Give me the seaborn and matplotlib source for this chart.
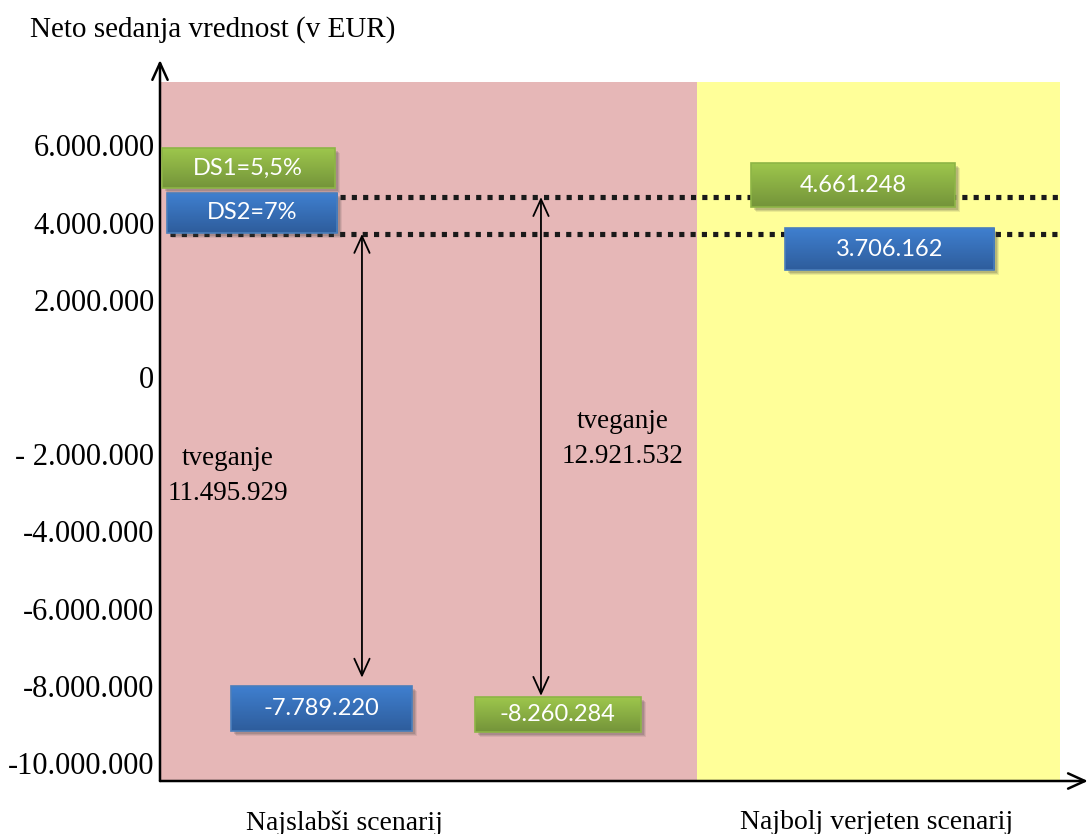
import numpy as np
import pandas as pd
import matplotlib
matplotlib.use("Agg")
import matplotlib.pyplot as plt
from matplotlib.patches import Rectangle
from matplotlib.colors import LinearSegmentedColormap
import seaborn as sns

sns.set_theme(style="white")
plt.rcParams["font.family"] = ["Liberation Serif", "DejaVu Serif"]

# Discount rates and net present values of the two scenarios
rates = ["DS1=5,5%", "DS2=7%"]
likely_npv = [4661248, 3706162]
worst_npv = [-8260284, -7789220]
risk = [12921532, 11495929]
scenarios = ["Najslabši scenarij", "Najbolj verjeten scenarij"]
ytick_values = [6_000_000, 4_000_000, 2_000_000, 0, -2_000_000,
                -4_000_000, -6_000_000, -8_000_000, -10_000_000]
ytick_labels = ["6.000.000", "4.000.000", "2.000.000", "0", "- 2.000.000",
                "-4.000.000", "-6.000.000", "-8.000.000", "-10.000.000"]
y_title = "Neto sedanja vrednost (v EUR)"
risk_word = "tveganje"


def eur(v):
    return f"{v:,}".replace(",", ".")


W, H = 1090, 834
fig = plt.figure(figsize=(W / 100, H / 100), dpi=100)
ax = fig.add_axes([160 / W, 53 / H, 900 / W, 699 / H])
YMIN, YMAX = -10.466e6, 7.642e6
PX = (YMAX - YMIN) / 699  # value units per pixel

PINK = "#E6B7B7"
YELLOW = "#FFFF99"
GREEN = ("#9DC64C", "#74943A", "#8DB546")
BLUE = ("#3F7FCF", "#2E5D9C", "#4A7EBB")

# placement of each rate's annotations
layout = [
    dict(colors=GREEN, lab=(0.002, 0.194), lab_off=0.75e6, lab_h=40,
         lik=(0.657, 0.883), lik_off=0.3e6, lik_h=44,
         arrow_x=0.4233, worst=(0.35, 0.534), worst_h=35, gap=1,
         line_x0=0.2, risk_pos=(0.5144, -1.6e6)),
    dict(colors=BLUE, lab=(0.008, 0.197), lab_off=0.55e6, lab_h=40,
         lik=(0.694, 0.927), lik_off=-0.4e6, lik_h=42,
         arrow_x=0.2244, worst=(0.079, 0.28), worst_h=45, gap=8,
         line_x0=0.011, risk_pos=(0.0756, -2.56e6)),
]

# scenario background bands
ax.axvspan(0, 537 / 900, color=PINK, lw=0, zorder=0)
ax.axvspan(537 / 900, 1, color=YELLOW, lw=0, zorder=0)


def box(x0, x1, yc, hpx, colors, text, fs=17):
    top, bot, edge = colors
    h = hpx * PX
    y0 = yc - h / 2
    for k, a in [(5, 0.10), (4, 0.14), (3, 0.18)]:
        ax.add_patch(Rectangle((x0 + k / 900, y0 - k * PX), x1 - x0, h,
                               fc="0.25", alpha=a, ec="none", zorder=4))
    grad = np.linspace(0, 1, 64).reshape(-1, 1)
    cmap = LinearSegmentedColormap.from_list("g", [bot, top])
    ax.imshow(grad, extent=[x0, x1, y0, y0 + h], origin="lower", cmap=cmap,
              aspect="auto", zorder=5, interpolation="bilinear")
    ax.add_patch(Rectangle((x0, y0), x1 - x0, h, fc="none", ec=edge, lw=1.2, zorder=6))
    ax.text((x0 + x1) / 2, yc, text, color="white", ha="center", va="center",
            fontsize=fs, family=["Lato", "DejaVu Sans"], zorder=7)


for rate, lik, worst, rsk, L in zip(rates, likely_npv, worst_npv, risk, layout):
    # dotted NPV level across both scenarios
    line_df = pd.DataFrame({"x": [L["line_x0"], 1.0], "npv": [lik, lik]})
    sns.lineplot(data=line_df, x="x", y="npv", ax=ax, color="#1a1a1a", linewidth=3.7,
                 linestyle=(0, (1, 1.2)), dash_capstyle="butt", zorder=3)
    # rate label, likely value and worst value boxes
    box(*L["lab"], lik + L["lab_off"], L["lab_h"], L["colors"], rate)
    box(*L["lik"], lik + L["lik_off"], L["lik_h"], L["colors"], eur(lik))
    wh = L["worst_h"]
    box(*L["worst"], worst - (L["gap"] + wh / 2) * PX, wh, L["colors"], eur(worst))
    # risk span arrow between the two scenario values
    ax.annotate("", xy=(L["arrow_x"], worst), xytext=(L["arrow_x"], lik),
                arrowprops=dict(arrowstyle="<->,head_length=0.55,head_width=0.25",
                                lw=1.3, color="black", mutation_scale=22,
                                shrinkA=0, shrinkB=0), zorder=3)
    ax.text(*L["risk_pos"], f"{risk_word}\n{eur(rsk)}", ha="center", va="center",
            fontsize=19.5, linespacing=1.5, color="black", zorder=3)

ax.set_xlim(0, 1)
ax.set_ylim(YMIN, YMAX)
ax.set_xlabel("")
ax.set_ylabel("")
ax.grid(False)
for s in ax.spines.values():
    s.set_visible(False)

ax.set_yticks(ytick_values, ytick_labels)
ax.set_xticks([(345 - 160) / 900, (877 - 160) / 900], scenarios)
ax.tick_params(axis="y", length=0, pad=4, labelsize=22, colors="black")
ax.tick_params(axis="x", length=0, pad=21, labelsize=20, colors="black")

# axis lines with open arrow heads
ax.annotate("", xy=(0, 1 + 22 / 699), xytext=(0, 0), xycoords="axes fraction",
            arrowprops=dict(arrowstyle="->,head_length=0.55,head_width=0.25", lw=1.8,
                            color="black", mutation_scale=22, shrinkA=0, shrinkB=0),
            annotation_clip=False)
ax.annotate("", xy=(1.031, 0), xytext=(0, 0), xycoords="axes fraction",
            arrowprops=dict(arrowstyle="->,head_length=0.55,head_width=0.25", lw=1.8,
                            color="black", mutation_scale=22, shrinkA=0, shrinkB=0),
            annotation_clip=False)

fig.text(30 / W, 1 - 30 / H, y_title, ha="left", va="center", fontsize=21, color="black")

fig.savefig("out.png", dpi=100)
